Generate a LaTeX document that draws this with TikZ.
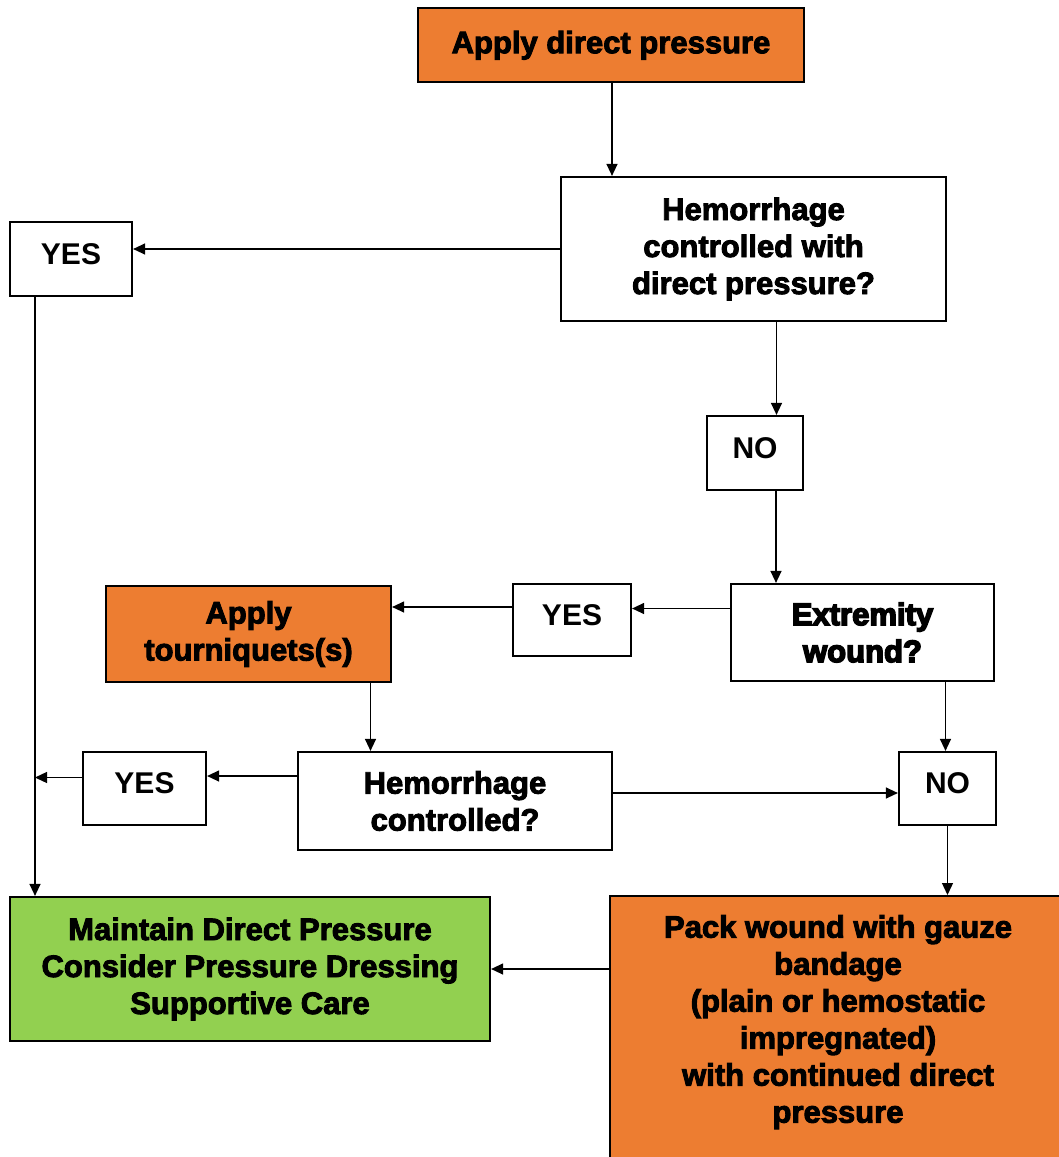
\documentclass[tikz,border=0pt]{standalone}
\usepackage{fontspec}
\setmainfont{Liberation Sans}
\newfontfamily\heavyfont{Liberation Sans Bold}[FakeBold=3]
\newfontfamily\heaviestfont{Liberation Sans Bold}[FakeBold=5]
\usetikzlibrary{arrows.meta}
\definecolor{bleedorange}{RGB}{237,125,49}
\definecolor{bleedgreen}{RGB}{146,208,80}

\begin{document}
\begin{tikzpicture}[x=1pt, y=-1pt, >={Triangle[length=12pt, width=11pt]},
      box/.style={draw=black, line width=2.2pt, fill=white, align=center, inner sep=0pt,
                  font=\heavyfont\fontsize{31}{37}\selectfont},
      act/.style={box, fill=bleedorange},
      done/.style={box, fill=bleedgreen},
      answer/.style={draw=black, line width=2.2pt, fill=white, inner sep=0pt, text depth=10pt,
                     font=\bfseries\fontsize{30}{36}\selectfont},
      arr/.style={->, line width=1.3pt, black}]
    \useasboundingbox (0,0) rectangle (1058,1157);
    \node[act, minimum width=386pt, minimum height=74pt, text depth=6pt] (apply) at (611,45) {Apply direct pressure};
    \node[box, minimum width=385pt, minimum height=144pt] (hem1) at (753.5,249) {Hemorrhage\\controlled with\\direct pressure?};
    \node[answer, minimum width=122pt, minimum height=74pt] (yes1) at (71,259) {YES};
    \node[answer, minimum width=96pt, minimum height=74pt] (no1) at (755,453) {NO};
    \node[box, minimum width=263pt, minimum height=97pt, font=\heaviestfont\fontsize{31}{37}\selectfont] (extrem) at (862.5,632.5) {Extremity\\wound?};
    \node[answer, minimum width=118pt, minimum height=72pt] (yes2) at (572,620) {YES};
    \node[act, minimum width=285pt, minimum height=96pt] (tourn) at (248.5,634) {Apply\\tourniquets(s)};
    \node[box, minimum width=314pt, minimum height=98pt] (hem2) at (455,801) {Hemorrhage\\controlled?};
    \node[answer, minimum width=123pt, minimum height=73pt] (yes3) at (144.5,788.5) {YES};
    \node[answer, minimum width=97pt, minimum height=73pt] (no2) at (947.5,788.5) {NO};
    \node[done, minimum width=480pt, minimum height=144pt] (maintain) at (250,969) {Maintain Direct Pressure\\Consider Pressure Dressing\\Supportive Care};
    \node[act, anchor=north, minimum width=456pt, minimum height=290pt] (pack) at (838,895) {};
    \node[align=center, anchor=north, inner sep=0pt, font=\heavyfont\fontsize{31}{37}\selectfont] (packtxt) at ([yshift=-20pt]pack.north)
      {Pack wound with gauze\\bandage\\(plain or hemostatic\\impregnated)\\with continued direct\\pressure};
    \coordinate (trunk) at ([xshift=-36pt]yes1.south);
    % arrows
    \draw[arr] ([xshift=1pt]apply.south) -- ([xshift=1pt]apply.south |- hem1.north);
    \draw[arr] (hem1.west) -- (hem1.west -| yes1.east);
    \draw[arr] ([xshift=23pt]hem1.south) -- ([xshift=23pt]hem1.south |- no1.north);
    \draw[arr] ([xshift=21pt]no1.south) -- ([xshift=21pt]no1.south |- extrem.north);
    \draw[arr] ([yshift=24pt]extrem.west) -- ([yshift=24pt]extrem.west -| yes2.east);
    \draw[arr] ([yshift=13pt]yes2.west) -- ([yshift=13pt]yes2.west -| tourn.east);
    \draw[arr] ([xshift=83pt]extrem.south) -- ([xshift=83pt]extrem.south |- no2.north);
    \draw[arr] ([xshift=122pt]tourn.south) -- ([xshift=122pt]tourn.south |- hem2.north);
    \draw[arr] ([yshift=25pt]hem2.west) -- ([yshift=25pt]hem2.west -| yes3.east);
    \draw[arr] ([yshift=11pt]yes3.west) -- ([yshift=11pt]yes3.west -| trunk);
    \draw[arr] (trunk) -- (trunk |- maintain.north);
    \draw[arr] ([yshift=8pt]hem2.east) -- ([yshift=8pt]hem2.east -| no2.west);
    \draw[arr] (no2.south) -- (no2.south |- pack.north);
    \draw[arr] (pack.west |- maintain.east) -- (maintain.east);
  \end{tikzpicture}
\end{document}
